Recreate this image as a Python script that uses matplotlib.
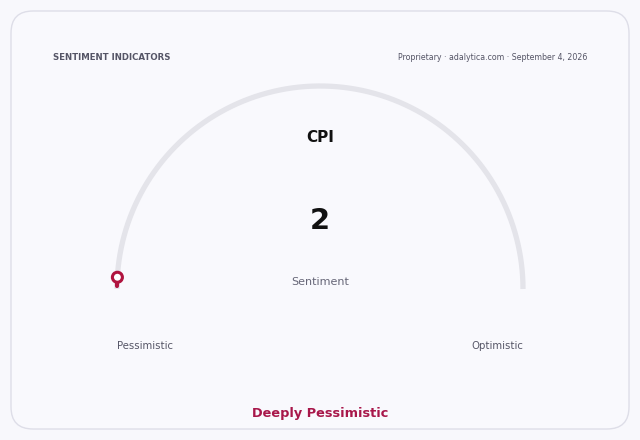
import matplotlib.pyplot as plt
import numpy as np
from matplotlib.patches import FancyBboxPatch, Circle

title = "SENTIMENT INDICATORS"
source = "Proprietary · adalytica.com · September 4, 2026"
indicator = "CPI"
value = 2
scale_min, scale_max = 0, 100
left_label = "Pessimistic"
right_label = "Optimistic"
verdict = "Deeply Pessimistic"

bg = "#f8f8fc"
accent = "#b0143f"

fig = plt.figure(figsize=(6.4, 4.4), dpi=100, facecolor=bg)
ax = fig.add_axes([0, 0, 1, 1])
ax.set_xlim(0, 640)
ax.set_ylim(440, 0)
ax.set_aspect("equal")
ax.axis("off")

# card
card = FancyBboxPatch((11, 11), 618, 418, boxstyle="round,pad=0,rounding_size=22",
                      fc="#f9f9fd", ec="#dedee8", lw=1.0)
ax.add_patch(card)

ax.text(53, 58, title, fontsize=6.2, fontweight="bold", color="#555566", va="center")
ax.text(587, 58, source, fontsize=5.7, color="#555566", va="center", ha="right")

# gauge track
cx, cy, r = 320, 289, 203
t = np.linspace(0, np.pi, 200)
ax.plot(cx + r * np.cos(t), cy - r * np.sin(t), color="#e4e4ea", lw=3.8,
        solid_capstyle="butt")

# value pin
frac = (value - scale_min) / (scale_max - scale_min)
ang = np.pi * (1 - frac)
px, py = cx + r * np.cos(ang), cy - r * np.sin(ang)
ax.plot([px, px], [py + 4, py + 10], color=accent, lw=3.0,
        solid_capstyle="round", zorder=3)
ax.add_patch(Circle((px, py + 1), 5.0, fc="white", ec=accent, lw=2.2, zorder=4))

ax.text(320, 137, indicator, fontsize=11, fontweight="bold", color="#111111",
        ha="center", va="center")
ax.text(320, 221, str(value), fontsize=21, fontweight="bold", color="#111111",
        ha="center", va="center")
ax.text(320, 282, "Sentiment", fontsize=8, color="#666677", ha="center", va="center")

ax.text(145, 346, left_label, fontsize=7.3, color="#555566", ha="center", va="center")
ax.text(497, 346, right_label, fontsize=7.3, color="#555566", ha="center", va="center")

ax.text(320, 414, verdict, fontsize=9.3, fontweight="bold", color="#a8174a",
        ha="center", va="center")

fig.savefig("out.png", dpi=100, facecolor=bg)
